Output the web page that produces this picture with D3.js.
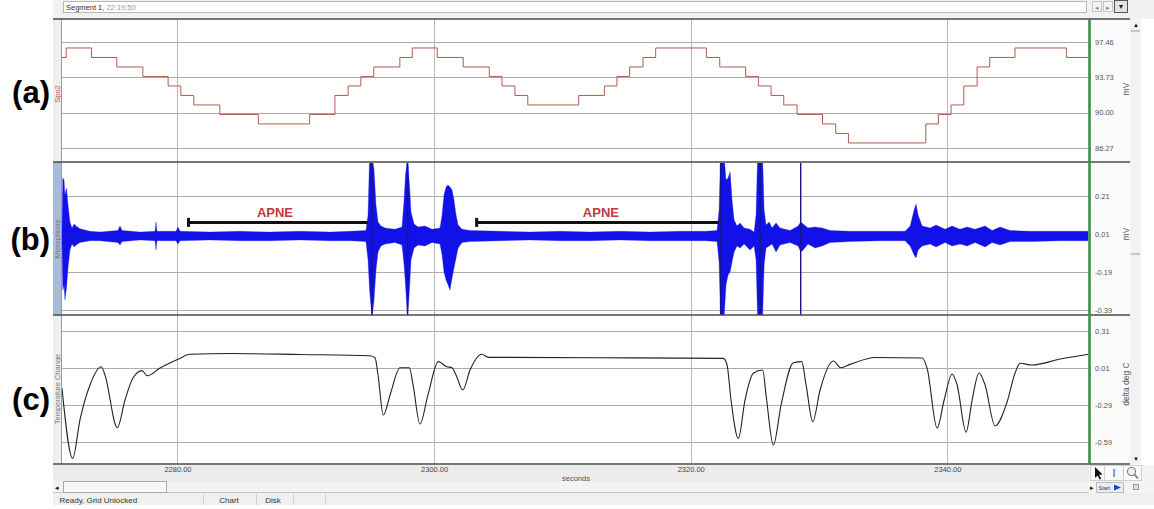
<!DOCTYPE html>
<html><head><meta charset="utf-8">
<script src="https://cdn.jsdelivr.net/npm/d3@7"></script>
<style>
body{margin:0;background:#fff;overflow:hidden}
svg{display:block}
text{font-family:"Liberation Sans",Arial,sans-serif}
</style>
</head><body>
<svg id="chart" width="1154" height="509"></svg>
<script>
// ---------------- data ----------------
const timeTicks = [2280, 2300, 2320, 2340];
const spo2Ticks = [97.46, 93.73, 90.00, 86.27];
const micTicks  = [0.21, 0.01, -0.19, -0.39];
const tempTicks = [0.31, 0.01, -0.29, -0.59];
const panelLabels  = ["(a)", "(b)", "(c)"];
const channelNames = ["Spo2", "Microphone", "Temperature Change"];
const unitNames    = ["mV", "mV", "delta deg C"];
const segmentName = "Segment 1,";
const segmentTime = "22:19:50";
const xAxisTitle = "seconds";

// SpO2 staircase (step-after)
const spo2T = [2271.0,2271.33,2273.3,2275.27,2277.3,2279.27,2280.26,2281.27,2283.3,2286.3,
  2290.3,2292.27,2293.3,2294.29,2295.3,2297.33,2298.3,2300.24,2302.27,2304.3,
  2305.29,2306.3,2307.3,2311.27,2313.27,2314.25,2315.24,2316.28,2317.27,2321.22,
  2322.26,2324.28,2325.27,2326.26,2327.25,2328.29,2330.27,2331.3,2332.29,2338.32,
  2339.3,2340.29,2341.28,2342.32,2343.3,2345.27,2349.28,2351.0];
const spo2V = [95.8,96.8,95.8,94.8,93.8,92.8,91.8,90.8,89.8,88.8,
  89.8,91.8,92.8,93.8,94.8,95.8,96.8,95.8,94.8,93.8,
  92.8,91.8,90.8,91.8,92.8,93.8,94.8,95.8,96.8,95.8,
  94.8,93.8,92.8,91.8,90.8,89.8,88.8,87.8,86.8,88.8,
  89.8,90.8,92.8,94.8,95.8,96.8,95.8,95.8];

// Microphone signal envelope (upper / lower), mV
const micT = [2271.00,2271.06,2271.16,2271.23,2271.35,2271.47,2271.62,2271.78,2271.94,2272.09,
  2272.40,2273.18,2273.96,2275.36,2275.52,2275.68,2277.08,2278.25,2278.33,2278.40,
  2279.89,2280.04,2280.20,2282.54,2284.87,2287.21,2289.55,2291.89,2293.45,2294.69,
  2294.85,2294.97,2295.16,2295.32,2295.47,2295.63,2295.86,2296.18,2296.95,2297.50,
  2297.66,2297.77,2297.93,2298.08,2298.20,2298.44,2298.75,2299.29,2299.84,2300.46,
  2300.62,2300.77,2300.93,2301.09,2301.24,2301.40,2301.55,2301.71,2301.87,2302.18,
  2302.80,2305.14,2307.48,2309.81,2312.15,2314.49,2316.83,2319.17,2321.12,2322.05,
  2322.21,2322.33,2322.60,2322.75,2322.91,2323.07,2323.22,2323.38,2323.61,2323.84,
  2324.16,2324.62,2324.94,2325.09,2325.21,2325.60,2325.72,2325.87,2326.11,2326.34,
  2326.65,2326.96,2327.74,2328.37,2328.57,2328.76,2329.14,2329.69,2330.24,2330.86,
  2332.42,2334.76,2336.71,2337.10,2337.41,2337.56,2337.72,2338.03,2338.66,2339.12,
  2339.82,2340.37,2340.99,2341.54,2342.16,2342.94,2343.49,2344.11,2344.89,2346.45,
  2348.79,2350.97];
const micHi = [0.042,0.305,0.294,0.215,0.252,0.163,0.073,0.042,0.063,0.052,
  0.037,0.024,0.020,0.029,0.052,0.029,0.020,0.024,0.073,0.024,
  0.024,0.047,0.024,0.020,0.024,0.020,0.024,0.020,0.024,0.029,
  0.110,0.42,0.42,0.347,0.163,0.073,0.052,0.042,0.035,0.047,
  0.189,0.321,0.42,0.268,0.126,0.063,0.047,0.052,0.035,0.042,
  0.110,0.215,0.257,0.268,0.257,0.242,0.189,0.110,0.057,0.035,
  0.029,0.024,0.020,0.024,0.020,0.024,0.020,0.024,0.024,0.029,
  0.136,0.42,0.42,0.294,0.305,0.336,0.189,0.084,0.052,0.068,
  0.042,0.035,0.020,0.110,0.42,0.42,0.136,0.057,0.073,0.042,
  0.068,0.042,0.029,0.052,0.073,0.063,0.042,0.047,0.042,0.029,
  0.024,0.024,0.024,0.052,0.136,0.168,0.110,0.052,0.042,0.057,
  0.035,0.052,0.035,0.047,0.035,0.052,0.029,0.047,0.029,0.024,
  0.024,0.024];
const micLo = [-0.043,-0.285,-0.258,-0.337,-0.274,-0.169,-0.074,-0.043,-0.058,-0.048,
  -0.035,-0.025,-0.025,-0.035,-0.048,-0.030,-0.021,-0.025,-0.074,-0.025,
  -0.025,-0.043,-0.025,-0.021,-0.025,-0.025,-0.021,-0.025,-0.025,-0.030,
  -0.127,-0.285,-0.43,-0.337,-0.179,-0.085,-0.053,-0.043,-0.035,-0.048,
  -0.153,-0.258,-0.43,-0.285,-0.127,-0.064,-0.048,-0.053,-0.035,-0.043,
  -0.101,-0.190,-0.232,-0.258,-0.285,-0.222,-0.169,-0.116,-0.064,-0.035,
  -0.030,-0.025,-0.021,-0.025,-0.025,-0.021,-0.025,-0.025,-0.025,-0.030,
  -0.137,-0.43,-0.43,-0.258,-0.206,-0.190,-0.137,-0.085,-0.053,-0.064,
  -0.043,-0.074,-0.053,-0.127,-0.43,-0.43,-0.153,-0.064,-0.053,-0.043,
  -0.085,-0.048,-0.035,-0.053,-0.085,-0.074,-0.043,-0.064,-0.053,-0.035,
  -0.030,-0.025,-0.025,-0.053,-0.101,-0.116,-0.074,-0.053,-0.043,-0.058,
  -0.035,-0.053,-0.043,-0.053,-0.035,-0.058,-0.035,-0.048,-0.030,-0.030,
  -0.025,-0.025];
// full-scale spikes (clipped)
const micSpikeT  = [2295.16, 2297.93, 2322.33, 2325.41, 2328.57];
const micSpikeHi = [0.42, 0.42, 0.42, 0.42, 0.42];
const micSpikeLo = [-0.43, -0.43, -0.43, -0.43, -0.43];

// Temperature change, deg C
const tempT = [2271.00,2271.83,2272.40,2273.18,2274.06,2274.35,2275.31,2275.91,2276.53,2277.24,
  2277.65,2278.64,2280.04,2280.98,2284.09,2289.55,2295.01,2295.40,2295.63,2296.04,
  2296.57,2297.34,2298.07,2298.36,2298.90,2299.52,2300.33,2300.98,2301.37,2301.71,
  2302.23,2302.80,2303.71,2304.23,2312.93,2322.54,2322.83,2323.14,2323.71,2324.23,
  2324.88,2325.61,2325.87,2326.44,2327.04,2328.00,2328.65,2328.99,2329.51,2330.08,
  2331.12,2331.69,2332.42,2334.37,2338.03,2338.42,2339.20,2339.75,2340.37,2340.76,
  2341.46,2341.93,2342.47,2342.94,2343.72,2344.63,2345.28,2345.67,2346.58,2348.79,
  2351.00];
const tempV = [-0.157,-0.725,-0.414,-0.130,0.018,-0.049,-0.477,-0.252,-0.074,-0.014,
  -0.055,0.007,0.078,0.119,0.125,0.117,0.107,0.089,-0.049,-0.374,
  -0.211,0.010,0.010,-0.130,-0.447,-0.211,0.059,0.018,0.012,-0.049,
  -0.171,-0.009,0.119,0.094,0.091,0.086,0.032,-0.252,-0.563,-0.252,
  -0.035,-0.009,-0.211,-0.617,-0.293,0.050,0.059,-0.130,-0.428,-0.171,
  0.064,0.010,0.037,0.093,0.089,0.007,-0.479,-0.252,-0.041,-0.130,
  -0.512,-0.252,-0.033,-0.130,-0.463,-0.276,-0.033,0.046,0.032,0.080,
  0.119];

// apnea annotations (seconds, mV)
const apneLabel = "APNE";
const apneStart = [2280.78, 2303.24];
const apneEnd   = [2294.85, 2322.20];
const apneTextT = [2287.6, 2313.0];
const apneBarV = 0.071, apneTextV = 0.099;

// ---------------- layout ----------------
const svg = d3.select("#chart");
const L = 62, R = 1088.5, LS = 53, RA = 1130;
const x = d3.scaleLinear().domain([2271, 2351]).range([L, R]);
const P = [
  {top:19,  bot:162, ticks:spo2Ticks, r:[148, 41.7], strip:"#eeeeee", name:"#c0504d", cy:94},
  {top:162, bot:315, ticks:micTicks,  r:[310, 196],  strip:"#a6bcd8", name:"#7a7a7a", cy:239},
  {top:315, bot:464, ticks:tempTicks, r:[441.7, 330.7], strip:"#eeeeee", name:"#7a7a7a", cy:389}
];
P.forEach(p => p.y = d3.scaleLinear().domain([p.ticks[3], p.ticks[0]]).range(p.r));
const fmt = d => d.toFixed(2);

svg.append("rect").attr("width",1154).attr("height",509).attr("fill","#fff");

// top bar
svg.append("rect").attr("x",LS).attr("y",0).attr("width",1154-LS).attr("height",19).attr("fill","#f1f1f1");
svg.append("rect").attr("x",63.5).attr("y",1.5).attr("width",1023).attr("height",11).attr("fill","#fff").attr("stroke","#b8b8b8");
const st = svg.append("text").attr("x",66).attr("y",10).attr("font-size",7.5);
st.append("tspan").attr("fill","#333").text(segmentName + " ");
st.append("tspan").attr("fill","#999").text(segmentTime);
[[1092,"◂"],[1103,"▸"]].forEach(([bx,ch]) => {
  svg.append("rect").attr("x",bx+0.5).attr("y",1.5).attr("width",9).attr("height",10).attr("fill","#f4f4f4").attr("stroke","#c4c4c4");
  svg.append("text").attr("x",bx+5).attr("y",9.5).attr("text-anchor","middle").attr("font-size",7).attr("fill","#888").text(ch);
});
svg.append("rect").attr("x",1114.5).attr("y",0.5).attr("width",13).attr("height",12).attr("fill","#e4e4e4").attr("stroke","#555");
svg.append("text").attr("x",1121).attr("y",9).attr("text-anchor","middle").attr("font-size",7).attr("fill","#222").text("▼");

// right areas
svg.append("rect").attr("x",1090).attr("y",19).attr("width",RA-1090).attr("height",445).attr("fill","#fbfbfb");
svg.append("rect").attr("x",RA).attr("y",19).attr("width",11).attr("height",445).attr("fill","#f2f2f2");
svg.append("text").attr("x",1136).attr("y",27).attr("text-anchor","middle").attr("font-size",6).attr("fill","#111").text("▲");
svg.append("text").attr("x",1136).attr("y",461).attr("text-anchor","middle").attr("font-size",6).attr("fill","#111").text("▼");
[31, 254].forEach(yy => svg.append("line").attr("x1",1131).attr("x2",1140).attr("y1",yy).attr("y2",yy).attr("stroke","#999"));

// panels
P.forEach((p, i) => {
  svg.append("rect").attr("x",LS).attr("y",p.top).attr("width",L-LS).attr("height",p.bot-p.top).attr("fill",p.strip);
  svg.append("rect").attr("x",L).attr("y",p.top).attr("width",R-L).attr("height",p.bot-p.top).attr("fill","#fff");
  svg.append("clipPath").attr("id","clip"+i).append("rect")
    .attr("x",L).attr("y",p.top+1).attr("width",R-L).attr("height",p.bot-p.top-1);
  const g = svg.append("g");
  g.selectAll("line.h").data(p.ticks).join("line")
    .attr("x1",L).attr("x2",R).attr("y1",d=>Math.round(p.y(d))+0.5).attr("y2",d=>Math.round(p.y(d))+0.5)
    .attr("stroke","#ababab").attr("stroke-width",1);
  g.selectAll("line.v").data(timeTicks).join("line")
    .attr("x1",d=>Math.round(x(d))+0.5).attr("x2",d=>Math.round(x(d))+0.5).attr("y1",p.top).attr("y2",p.bot)
    .attr("stroke","#b9b9b9").attr("stroke-width",1);
  // right tick labels
  const ax = svg.append("g").attr("transform","translate(1095,0)")
    .call(d3.axisRight(p.y).tickValues(p.ticks).tickSize(0).tickPadding(0).tickFormat(fmt));
  ax.select(".domain").remove();
  ax.selectAll("text").attr("font-size",7.5).attr("fill","#555").attr("font-family","Liberation Sans, Arial, sans-serif");
  // channel names & units
  svg.append("text").attr("transform",`translate(57.8,${p.cy}) rotate(-90)`).attr("text-anchor","middle")
    .attr("dominant-baseline","central").attr("font-size",7.5).attr("fill",p.name).text(channelNames[i]);
  svg.append("text").attr("transform",`translate(1125.5,${p.cy-5}) rotate(-90)`).attr("text-anchor","middle")
    .attr("dominant-baseline","central").attr("font-size",8.5).attr("fill","#555").text(unitNames[i]);
  // panel label
  svg.append("text").attr("x",50).attr("y",[103,250,410][i]).attr("text-anchor","end")
    .attr("font-size",31).attr("font-weight","bold").attr("fill","#000").text(panelLabels[i]);
});

// series (a) SpO2
const ya = P[0].y, yb = P[1].y, yc = P[2].y;
svg.append("path").attr("clip-path","url(#clip0)")
  .attr("d", d3.line().curve(d3.curveStepAfter).x((d,i)=>x(spo2T[i])).y((d,i)=>ya(spo2V[i]))(spo2T))
  .attr("fill","none").attr("stroke","#b35a52").attr("stroke-width",1);

// series (b) microphone
svg.append("path").attr("clip-path","url(#clip1)")
  .attr("d", d3.area().x((d,i)=>x(micT[i])).y0((d,i)=>yb(micLo[i])).y1((d,i)=>yb(micHi[i]))(micT))
  .attr("fill","#1212e8").attr("stroke","#1212e8").attr("stroke-width",0.3);
svg.append("g").attr("clip-path","url(#clip1)").selectAll("line").data(micSpikeT).join("line")
  .attr("x1",d=>x(d)).attr("x2",d=>x(d)).attr("y1",(d,i)=>yb(micSpikeHi[i])).attr("y2",(d,i)=>yb(micSpikeLo[i]))
  .attr("stroke","#16168a").attr("stroke-width",1.4);

// apnea annotations
apneStart.forEach((s, i) => {
  const yB = yb(apneBarV);
  svg.append("line").attr("x1",x(s)).attr("x2",x(apneEnd[i])).attr("y1",yB).attr("y2",yB)
    .attr("stroke","#111").attr("stroke-width",3);
  svg.append("line").attr("x1",x(s)+1).attr("x2",x(s)+1).attr("y1",yB-4.5).attr("y2",yB+4.5)
    .attr("stroke","#111").attr("stroke-width",3);
  svg.append("text").attr("x",x(apneTextT[i])).attr("y",yb(apneTextV)).attr("text-anchor","middle")
    .attr("font-size",13).attr("font-weight","bold").attr("fill","#c0393b").text(apneLabel);
});

// series (c) temperature
svg.append("path").attr("clip-path","url(#clip2)")
  .attr("d", d3.line().curve(d3.curveMonotoneX).x((d,i)=>x(tempT[i])).y((d,i)=>yc(tempV[i]))(tempT))
  .attr("fill","none").attr("stroke","#222").attr("stroke-width",1.1);

// separators & frame
svg.append("line").attr("x1",L-0.5).attr("x2",L-0.5).attr("y1",19).attr("y2",464).attr("stroke","#9a9a9a");
[19,162,315,464].forEach(yy => svg.append("line").attr("x1",LS).attr("x2",RA).attr("y1",yy).attr("y2",yy)
  .attr("stroke","#4a4a4a").attr("stroke-width",1.6));
svg.append("line").attr("x1",1089.5).attr("x2",1089.5).attr("y1",19).attr("y2",464)
  .attr("stroke","#3d8f47").attr("stroke-width",2.6);

// bottom: time axis
svg.append("rect").attr("x",LS).attr("y",465).attr("width",1089-LS).attr("height",16).attr("fill","#ececec");
// scrollbar row
svg.append("rect").attr("x",LS).attr("y",481).attr("width",1089-LS).attr("height",12).attr("fill","#f3f3f3");
svg.append("line").attr("x1",LS).attr("x2",1089).attr("y1",492.5).attr("y2",492.5).attr("stroke","#c6c6c6");
svg.append("text").attr("x",57).attr("y",489.5).attr("text-anchor","middle").attr("font-size",7).attr("fill","#111").text("◂");
svg.append("rect").attr("x",63.5).attr("y",481.5).attr("width",103).attr("height",11).attr("fill","#f8f8f8").attr("stroke","#a8a8a8");

const bx = svg.append("g").attr("transform","translate(0,464)")
  .call(d3.axisBottom(x).tickValues(timeTicks).tickSize(0).tickPadding(3).tickFormat(fmt));
bx.select(".domain").remove();
bx.selectAll("text").attr("font-size",7.5).attr("fill","#444").attr("font-family","Liberation Sans, Arial, sans-serif");
svg.append("text").attr("x",576).attr("y",481).attr("text-anchor","middle").attr("font-size",7.5).attr("fill","#555").text(xAxisTitle);

// status bar
svg.append("rect").attr("x",LS).attr("y",493).attr("width",1154-LS).attr("height",12).attr("fill","#f0f0f0");
svg.append("text").attr("x",59.5).attr("y",503).attr("font-size",8).attr("fill","#333").text("Ready, Grid Unlocked");
[203,256,293,325].forEach(xx => svg.append("line").attr("x1",xx+0.5).attr("x2",xx+0.5).attr("y1",494).attr("y2",505).attr("stroke","#cfcfcf"));
svg.append("text").attr("x",229).attr("y",503).attr("text-anchor","middle").attr("font-size",8).attr("fill","#333").text("Chart");
svg.append("text").attr("x",273).attr("y",503).attr("text-anchor","middle").attr("font-size",8).attr("fill","#333").text("Disk");

// bottom-right tool buttons
svg.append("rect").attr("x",1090).attr("y",465).attr("width",64).attr("height",28).attr("fill","#f4f4f4");
[[1090.5,14],[1104.5,19],[1123.5,18]].forEach(([bxx,w]) => svg.append("rect").attr("x",bxx).attr("y",465.5).attr("width",w).attr("height",15)
  .attr("fill","#fafafa").attr("stroke","#cfcfcf"));
svg.append("path").attr("d","M1095,467 L1095,478 L1097.6,475.6 L1099.6,479.6 L1101.2,478.8 L1099.2,474.8 L1102.6,474.6 Z").attr("fill","#111");
svg.append("text").attr("x",1114).attr("y",477).attr("text-anchor","middle").attr("font-size",11)
  .attr("font-family","Liberation Serif, serif").attr("fill","#444").text("I");
svg.append("circle").attr("cx",1131.5).attr("cy",471.5).attr("r",4).attr("fill","#f0f0f0").attr("stroke","#777").attr("stroke-width",1.1);
svg.append("line").attr("x1",1134.5).attr("y1",474.5).attr("x2",1138).attr("y2",478.5).attr("stroke","#777").attr("stroke-width",1.6);
svg.append("text").attr("x",1092).attr("y",490).attr("text-anchor","middle").attr("font-size",7).attr("fill","#111").text("▸");
svg.append("rect").attr("x",1096.5).attr("y",482.5).attr("width",27).attr("height",10).attr("fill","#e8eef8").attr("stroke","#bbb");
svg.append("text").attr("x",1098.5).attr("y",490).attr("font-size",5.5).attr("fill","#333").text("Start");
svg.append("path").attr("d","M1114,484.5 L1121,487.5 L1114,490.5 Z").attr("fill","#1a3fd8");
svg.append("rect").attr("x",1133.5).attr("y",484.5).attr("width",5).attr("height",5).attr("fill","#ddd").attr("stroke","#999");
</script>
</body></html>
